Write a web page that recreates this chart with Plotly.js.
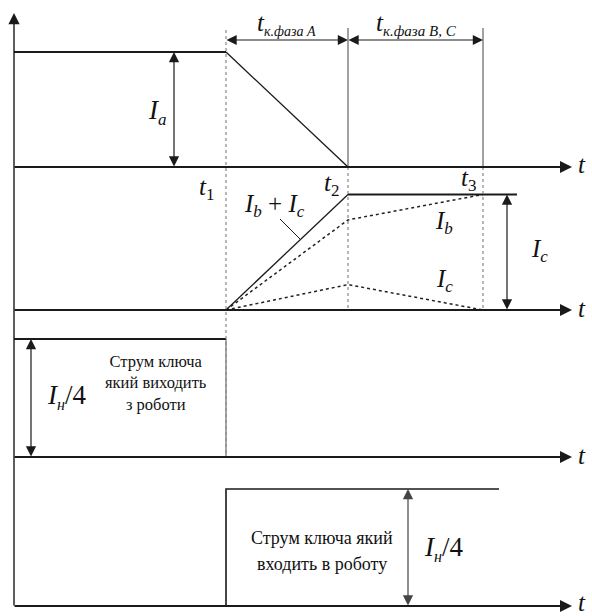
<!DOCTYPE html>
<html>
<head>
<meta charset="utf-8">
<script src="https://cdn.plot.ly/plotly-3.0.1.min.js"></script>
<style>
  html, body { margin: 0; padding: 0; background: #fff; }
  #chart { width: 592px; height: 616px; }
</style>
</head>
<body>
<div id="chart"></div>
<script>
// Switching instants t0, t1, t2, t3 (relative time units)
const tSwitch = [0, 2.12, 3.34, 4.69];
const tAxisEnd = 5.58;

// Phase A current: constant, then falls to zero between t1 and t2
const phaseATime = [0, 2.12, 3.34];
const phaseACurrent = [1, 1, 0];

// Phases B and C: their sum rises during t1..t2, then stays flat
const sumTime = [2.12, 3.34, 5.03];
const sumCurrent = [0, 1, 1];
const phaseBTime = [2.12, 3.34, 4.69];
const phaseBCurrent = [0, 0.78, 1];
const phaseCTime = [2.12, 3.34, 4.69];
const phaseCCurrent = [0, 0.22, 0];

// Current of the switch leaving conduction
const outTime = [0, 2.12, 2.12];
const outCurrent = [1, 1, 0];

// Current of the switch entering conduction
const inTime = [2.12, 2.12, 4.85];
const inCurrent = [0, 1, 1];

// Where each magnitude arrow stands on the time axis
const arrowTime = { ia: 1.60, ic: 4.93, out: 0.17, inn: 3.94 };

// ---- page geometry (pixels) ----
const W = 592, H = 616;
const panels = [
  { base: 167, unit: 52,  top: 0,   bottom: 175 },
  { base: 310, unit: 194.5, top: 175, bottom: 318 },
  { base: 457, unit: 339, top: 318, bottom: 465 },
  { base: 606, unit: 489, top: 465, bottom: 616 }
];
const px = x => x / W;
const py = y => 1 - y / H;

function yAxis(p) {
  const s = p.base - p.unit;
  return {
    domain: [1 - p.bottom / H, 1 - p.top / H],
    range: [(p.base - p.bottom) / s, (p.base - p.top) / s],
    visible: false, fixedrange: true, anchor: 'x'
  };
}

const INK = '#1a1a1a';
const SERIF = '"Liberation Serif", "Times New Roman", "DejaVu Serif", serif';

function line(x, y, axis, width, color, dash) {
  return {
    type: 'scatter', mode: 'lines', x: x, y: y, yaxis: axis,
    line: { color: color || INK, width: width, dash: dash || 'solid' },
    hoverinfo: 'skip', showlegend: false
  };
}

const traces = [
  // panel 1
  line(phaseATime.slice(1), phaseACurrent.slice(1), 'y', 1.3),
  line(phaseATime.slice(0, 2), phaseACurrent.slice(0, 2), 'y', 2.2),
  // panel 2
  line(phaseBTime, phaseBCurrent, 'y2', 1.5, '#222', 'dot'),
  line(phaseCTime, phaseCCurrent, 'y2', 1.5, '#222', 'dot'),
  line(sumTime.slice(0, 2), sumCurrent.slice(0, 2), 'y2', 1.3),
  line(sumTime.slice(1), sumCurrent.slice(1), 'y2', 2.2),
  // panel 3
  line(outTime.slice(1), outCurrent.slice(1), 'y3', 1.3, '#777'),
  line(outTime.slice(0, 2), outCurrent.slice(0, 2), 'y3', 2.2),
  // panel 4
  line(inTime, inCurrent, 'y4', 1.6)
];

// Guide lines at the switching instants
function vline(t, y0, y1, color, dash, width) {
  return {
    type: 'line', xref: 'x', yref: 'paper', x0: t, x1: t, y0: py(y0), y1: py(y1),
    line: { color: color, width: width, dash: dash }
  };
}
const shapes = [
  vline(tSwitch[1], 30, 457, '#888', 'dot', 1.2),
  vline(tSwitch[2], 28, 167, '#444', 'solid', 1),
  vline(tSwitch[2], 167, 310, '#888', 'dot', 1.2),
  vline(tSwitch[3], 28, 167, '#444', 'solid', 1),
  vline(tSwitch[3], 167, 310, '#888', 'dot', 1.2),
  // leader for the Ib + Ic label
  { type: 'line', xref: 'paper', yref: 'paper', x0: px(280), y0: py(219), x1: px(300), y1: py(239),
    line: { color: INK, width: 1 } }
];

// Arrows
function arrow(x0, y0, x1, y1, xref, yref, width, size, both, color) {
  const a = {
    x: x1, y: y1, ax: x0, ay: y0, xref: xref, yref: yref, axref: xref, ayref: yref,
    text: '', showarrow: true, arrowhead: 2, arrowsize: size, arrowwidth: width,
    arrowcolor: color || INK, font: { size: 1 }, borderpad: 0, standoff: 0
  };
  if (both) {
    a.arrowside = 'end+start';
    a.startarrowhead = 2;
    a.startarrowsize = size;
  }
  return a;
}

const annotations = [];
// time axes
['y', 'y2', 'y3', 'y4'].forEach(ax => {
  annotations.push(arrow(tSwitch[0], 0, tAxisEnd, 0, 'x', ax, 2, 1.2, false));
});
// vertical axis
annotations.push({
  x: tSwitch[0], y: py(13), xref: 'x', yref: 'paper', ax: 0, ay: 593,
  text: '', showarrow: true, arrowhead: 2, arrowsize: 1.6, arrowwidth: 1.4,
  arrowcolor: INK, font: { size: 1 }, borderpad: 0
});
// magnitude arrows
annotations.push(arrow(arrowTime.ia, 0, arrowTime.ia, phaseACurrent[0], 'x', 'y', 1.2, 1.7, true));
annotations.push(arrow(arrowTime.ic, 0, arrowTime.ic, sumCurrent[2], 'x', 'y2', 1.2, 1.7, true));
annotations.push(arrow(arrowTime.out, 0, arrowTime.out, outCurrent[0], 'x', 'y3', 1.2, 1.7, true));
annotations.push(arrow(arrowTime.inn, 0, arrowTime.inn, inCurrent[2], 'x', 'y4', 1.2, 1.7, true, '#444'));
// commutation interval arrows
const headerY = (panels[0].base - 40) / (panels[0].base - panels[0].unit);
annotations.push(arrow(tSwitch[1], headerY, tSwitch[2], headerY, 'x', 'y', 1.2, 1.7, true));
annotations.push(arrow(tSwitch[2], headerY, tSwitch[3], headerY, 'x', 'y', 1.2, 1.7, true));

// Text labels
function label(x, y, text, size, color) {
  return {
    x: px(x), y: py(y), xref: 'paper', yref: 'paper', text: text, showarrow: false,
    xanchor: 'center', yanchor: 'middle', align: 'center',
    font: { family: SERIF, size: size, color: color || '#111' }
  };
}
const sub = (s, size) => `<sub><span style="font-size:${size}px">${s}</span></sub>`;

annotations.push(
  label(157, 112, '<i>I</i>' + sub('<i>a</i>', 17), 27),
  label(286, 24, '<i>t</i>' + sub('<i>к.фаза A</i>', 14), 25),
  label(416, 24, '<i>t</i>' + sub('<i>к.фаза B, C</i>', 15), 25),
  label(206, 188, '<i>t</i>' + sub('1', 17), 25),
  label(331, 184, '<i>t</i>' + sub('2', 17), 25),
  label(468, 180, '<i>t</i>' + sub('3', 17), 25),
  label(274, 206, '<i>I</i>' + sub('<i>b</i>', 17) + ' + <i>I</i>' + sub('<i>c</i>', 17), 25),
  label(444, 222, '<i>I</i>' + sub('<i>b</i>', 17), 25),
  label(444, 280, '<i>I</i>' + sub('<i>c</i>', 17), 25),
  label(539, 250, '<i>I</i>' + sub('<i>c</i>', 17), 25),
  label(66, 397, '<i>I</i>' + sub('<i>н</i>', 16) + '/4', 27),
  label(156, 383, 'Струм ключа<br>який виходить<br>з роботи', 16.5),
  label(322, 538, 'Струм ключа який', 18),
  label(322, 564, 'входить в роботу', 18),
  label(443, 548, '<i>I</i>' + sub('<i>н</i>', 16) + '/4', 27)
);
panels.forEach(p => annotations.push(label(582, Math.min(p.base - 2, 602), '<i>t</i>', 25)));

const layout = {
  width: W, height: H,
  margin: { l: 0, r: 0, t: 0, b: 0, pad: 0 },
  paper_bgcolor: '#fff', plot_bgcolor: 'rgba(0,0,0,0)',
  showlegend: false,
  font: { family: SERIF },
  xaxis: { range: [-0.14, 5.78], visible: false, fixedrange: true, domain: [0, 1] },
  yaxis: yAxis(panels[0]),
  yaxis2: yAxis(panels[1]),
  yaxis3: yAxis(panels[2]),
  yaxis4: yAxis(panels[3]),
  shapes: shapes,
  annotations: annotations
};

Plotly.newPlot('chart', traces, layout, { staticPlot: true, displayModeBar: false });
</script>
</body>
</html>
